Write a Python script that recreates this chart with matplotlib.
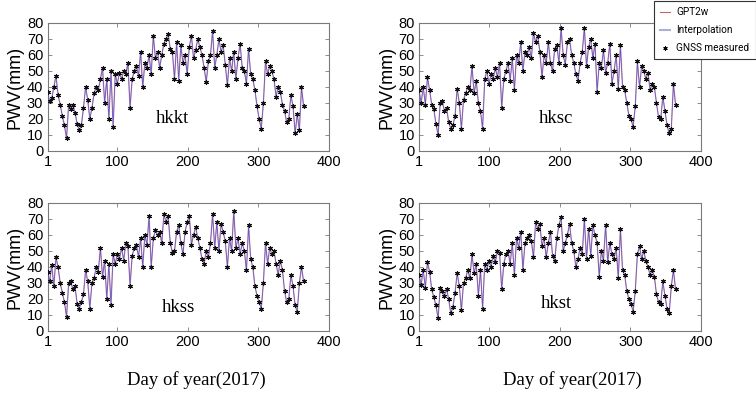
import matplotlib
matplotlib.use('Agg')
import matplotlib.pyplot as plt
from matplotlib.lines import Line2D
import numpy as np

# PWV (mm), one value every 3 days starting at day 1
stations = ['hkkt', 'hksc', 'hkss', 'hkst']

hkkt = [37, 31, 33, 40, 47, 35, 29, 22, 16, 8,
        29, 26, 29, 24, 17, 13, 16, 27, 40, 32,
        20, 27, 36, 40, 38, 45, 52, 30, 45, 20,
        50, 15, 48, 42, 49, 45, 50, 48, 55, 27,
        45, 50, 53, 47, 62, 40, 55, 52, 60, 48,
        72, 58, 62, 52, 60, 67, 70, 73, 64, 62,
        45, 68, 44, 66, 55, 60, 48, 65, 72, 58,
        63, 70, 65, 60, 52, 43, 56, 60, 75, 52,
        60, 70, 62, 66, 54, 41, 58, 50, 62, 45,
        58, 67, 52, 50, 42, 64, 48, 45, 38, 28,
        20, 14, 30, 56, 48, 53, 50, 45, 34, 40,
        37, 29, 25, 18, 20, 35, 28, 11, 23, 13,
        40, 28]

hksc = [38, 30, 40, 29, 46, 38, 29, 26, 17, 10,
        30, 31, 25, 27, 18, 14, 16, 22, 39, 30,
        14, 32, 36, 40, 38, 53, 36, 44, 30, 25,
        14, 45, 50, 42, 48, 45, 52, 46, 55, 27,
        45, 50, 55, 44, 58, 38, 60, 55, 68, 50,
        62, 60, 65, 58, 74, 68, 72, 62, 46, 60,
        55, 68, 55, 50, 64, 66, 55, 77, 60, 54,
        68, 70, 60, 55, 48, 44, 55, 62, 77, 53,
        65, 70, 58, 67, 37, 55, 52, 63, 49, 55,
        67, 42, 50, 60, 39, 66, 40, 38, 30, 22,
        20, 15, 28, 56, 40, 53, 50, 45, 49, 38,
        42, 40, 30, 21, 20, 34, 25, 16, 11, 14,
        42, 29]

hkss = [37, 31, 41, 28, 46, 40, 30, 24, 18, 9,
        30, 31, 26, 28, 17, 14, 18, 23, 38, 31,
        14, 30, 33, 40, 37, 52, 34, 44, 20, 42,
        16, 48, 42, 48, 45, 52, 44, 55, 53, 28,
        47, 52, 54, 46, 58, 40, 60, 54, 72, 40,
        58, 63, 60, 62, 55, 73, 68, 72, 55, 49,
        50, 62, 66, 55, 48, 62, 68, 72, 54, 60,
        65, 58, 52, 45, 42, 50, 46, 55, 73, 52,
        68, 50, 67, 62, 56, 40, 58, 50, 75, 52,
        58, 48, 55, 50, 38, 66, 45, 40, 28, 22,
        18, 14, 30, 55, 42, 52, 48, 50, 42, 35,
        44, 38, 25, 18, 20, 35, 28, 16, 12, 30,
        40, 31]

hkst = [35, 29, 38, 27, 43, 37, 26, 21, 16, 8,
        27, 25, 22, 26, 20, 11, 15, 24, 36, 28,
        13, 30, 33, 38, 33, 48, 36, 42, 22, 38,
        14, 42, 38, 44, 40, 47, 43, 50, 49, 26,
        42, 48, 50, 42, 55, 35, 58, 52, 62, 38,
        55, 58, 60, 56, 46, 68, 64, 67, 53, 58,
        46, 55, 62, 47, 44, 58, 66, 71, 50, 55,
        60, 67, 55, 50, 40, 45, 52, 48, 70, 45,
        64, 47, 66, 60, 55, 34, 50, 44, 66, 43,
        55, 48, 45, 52, 33, 64, 38, 35, 25, 20,
        17, 12, 25, 48, 53, 45, 50, 44, 40, 35,
        38, 34, 23, 18, 17, 31, 22, 14, 11, 28,
        38, 26]

series = [hkkt, hksc, hkss, hkst]
label_pos = [(178, 20.5), (195, 20), (186, 15), (196, 17)]

xticks = [1, 100, 200, 300, 400]
yticks = [0, 10, 20, 30, 40, 50, 60, 70, 80]

W, H = 756, 397
fig = plt.figure(figsize=(W / 100, H / 100), dpi=100)

# axes boxes in pixels: left, top, right, bottom
boxes = [(47.5, 23, 329, 151), (419, 23, 701, 151),
         (47.5, 203, 329, 331), (419, 203, 701, 331)]

spine_col = '#7a7a7a'
for k in range(4):
    l, t, r, b = boxes[k]
    ax = fig.add_axes([l / W, 1 - b / H, (r - l) / W, (b - t) / H])
    vals = np.array(series[k])
    days = np.arange(1, 1 + 3 * len(vals), 3)
    ax.plot(days, vals, color='#e07a7a', lw=1.0, alpha=0.6, zorder=2)
    ax.plot(days, vals, color='#4a4ac8', lw=0.6, alpha=0.85, zorder=3)
    ax.plot(days, vals, ls='none', marker=(6, 2, 0), ms=3.4, mew=0.8,
            color='#111111', zorder=4)
    ax.set_xlim(1, 400)
    ax.set_ylim(0, 80)
    ax.set_xticks(xticks)
    ax.set_yticks(yticks)
    ax.tick_params(direction='in', length=3, width=0.6, color=spine_col,
                   top=True, right=True, labelsize=10.5, pad=3)
    for lab in ax.get_xticklabels() + ax.get_yticklabels():
        lab.set_family('Liberation Sans')
    for sp in ax.spines.values():
        sp.set_color(spine_col)
        sp.set_linewidth(0.8)
    x, y = label_pos[k]
    ax.text(x, y, stations[k], ha='center', va='center',
            family='Liberation Serif', fontsize=13.5)
    # y label
    fig.text((15 if k % 2 == 0 else 387) / W, 1 - (t + b) / 2 / H, 'PWV(mm)',
             rotation=90, ha='center', va='center',
             family='Liberation Sans', fontsize=13)

fig.text(196 / W, 1 - 380 / H, 'Day of year(2017)', ha='center', va='center',
         family='Liberation Serif', fontsize=13.5)
fig.text(572 / W, 1 - 380 / H, 'Day of year(2017)', ha='center', va='center',
         family='Liberation Serif', fontsize=13.5)

handles = [Line2D([], [], color='#c06a6a', lw=0.8),
           Line2D([], [], color='#aab0d6', lw=1.5),
           Line2D([], [], ls='none', marker=(6, 2, 0), ms=3, mew=0.7,
                  color='black')]
leg = fig.legend(handles, ['GPT2w', 'Interpolation', 'GNSS measured'],
                 loc='upper right', bbox_to_anchor=(755.5 / W, 1 - 1 / H),
                 prop={'family': 'Roboto', 'size': 7.2},
                 frameon=True, fancybox=False, framealpha=1,
                 edgecolor='#333333', handlelength=1.0, handletextpad=0.6,
                 borderpad=0.6, labelspacing=0.8, borderaxespad=0)
leg.get_frame().set_linewidth(0.8)
leg.set_zorder(10)

fig.savefig('out.png', dpi=100)
